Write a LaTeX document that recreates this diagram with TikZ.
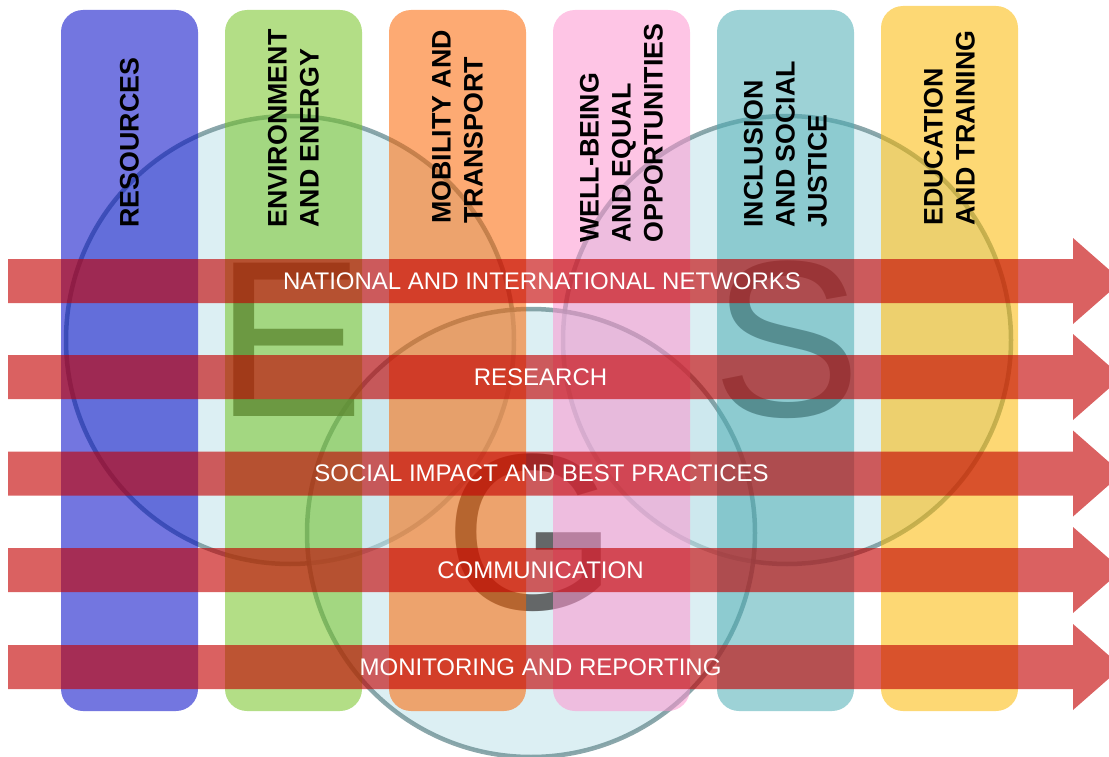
\documentclass[tikz,border=0pt]{standalone}
\usepackage{fontspec}
\setmainfont{Liberation Sans}
\definecolor{resblue}{RGB}{0,5,198}
\definecolor{envgreen}{RGB}{116,195,35}
\definecolor{moborange}{RGB}{251,100,0}
\definecolor{wellpink}{RGB}{253,149,207}
\definecolor{inclteal}{RGB}{76,173,180}
\definecolor{eduyellow}{RGB}{251,184,2}
\definecolor{ringfill}{RGB}{194,227,234}
\definecolor{ringline}{RGB}{110,145,150}
\definecolor{lettergray}{RGB}{70,70,70}
\definecolor{bandred}{RGB}{195,0,0}

\begin{document}
\begin{tikzpicture}[x=1pt,y=-1pt,
	ring/.style={circle, minimum size=448pt, inner sep=0pt, fill=ringfill, fill opacity=0.57, draw=ringline, draw opacity=0.8, line width=4.5pt},
	bigletter/.style={text=lettergray, text opacity=0.8, font=\fontsize{223}{223}\selectfont, inner sep=0pt},
	column/.style={rounded corners=22pt, minimum width=137pt, minimum height=701pt, inner sep=0pt, fill opacity=0.55},
	coltext/.style={rotate=90, anchor=west, align=left, inner sep=0pt, font=\bfseries\fontsize{26.8}{32}\selectfont},
	band/.style={fill=bandred, fill opacity=0.62},
	bandtext/.style={text=white, inner sep=0pt, font=\fontsize{24}{28}\selectfont}]
	\useasboundingbox (0,0) rectangle (1109,757);
	\clip (0,0) rectangle (1109,757);

				\begin{scope}
	\node[ring] (envRing) at (290,340) {};
	\node[ring] (socRing) at (787,340) {};
	\node[ring] (govRing) at (531,533) {};
	\node[bigletter] (letterE) at (envRing.center) {E};
	\node[bigletter] (letterS) at (socRing.center) {S};
	\node[bigletter] (letterG) at (govRing.center) {G};
				\end{scope}

				\begin{scope}
	\node[column, fill=resblue] (res) at (129.5,360.5) {};
	\node[column, fill=envgreen] (env) at (293.5,360.5) {};
	\node[column, fill=moborange] (mob) at (457.5,360.5) {};
	\node[column, fill=wellpink] (well) at (621.5,360.5) {};
	\node[column, fill=inclteal] (incl) at (785.5,360.5) {};
	\node[column, fill=eduyellow, minimum height=705pt] (edu) at (949.5,358.5) {};

	\node[coltext] (resText) at ([yshift=-218pt]res.north) {RESOURCES};
	\node[coltext] (envText) at ([yshift=-218pt]env.north) {ENVIRONMENT\\AND ENERGY};
	\node[coltext] (mobText) at ([yshift=-214pt]mob.north) {MOBILITY AND\\TRANSPORT};
	\node[coltext] (wellText) at ([yshift=-233pt]well.north) {WELL-BEING\\AND EQUAL\\OPPORTUNITIES};
	\node[coltext] (inclText) at ([yshift=-218pt]incl.north) {INCLUSION\\AND SOCIAL\\JUSTICE};
	\node[coltext] (eduText) at ([yshift=-220pt]edu.north) {EDUCATION\\AND TRAINING};
				\end{scope}

				\begin{scope}
	\fill[band, shift={(0,281)}] (8,-22) -- (1073,-22) -- (1073,-43) -- (1122,0) -- (1073,43) -- (1073,22) -- (8,22) -- cycle;
	\fill[band, shift={(0,377)}] (8,-22) -- (1073,-22) -- (1073,-43) -- (1122,0) -- (1073,43) -- (1073,22) -- (8,22) -- cycle;
	\fill[band, shift={(0,473.5)}] (8,-22) -- (1073,-22) -- (1073,-43) -- (1122,0) -- (1073,43) -- (1073,22) -- (8,22) -- cycle;
	\fill[band, shift={(0,570)}] (8,-22) -- (1073,-22) -- (1073,-43) -- (1122,0) -- (1073,43) -- (1073,22) -- (8,22) -- cycle;
	\fill[band, shift={(0,667)}] (8,-22) -- (1073,-22) -- (1073,-43) -- (1122,0) -- (1073,43) -- (1073,22) -- (8,22) -- cycle;

	\node[bandtext] (networks) at (542,281) {NATIONAL AND INTERNATIONAL NETWORKS};
	\node[bandtext] (research) at (540.5,377) {RESEARCH};
	\node[bandtext] (impact) at (541.5,473.5) {SOCIAL IMPACT AND BEST PRACTICES};
	\node[bandtext] (communication) at (540.5,570) {COMMUNICATION};
	\node[bandtext] (monitoring) at (540.5,667) {MONITORING AND REPORTING};
				\end{scope}

\end{tikzpicture}
\end{document}
